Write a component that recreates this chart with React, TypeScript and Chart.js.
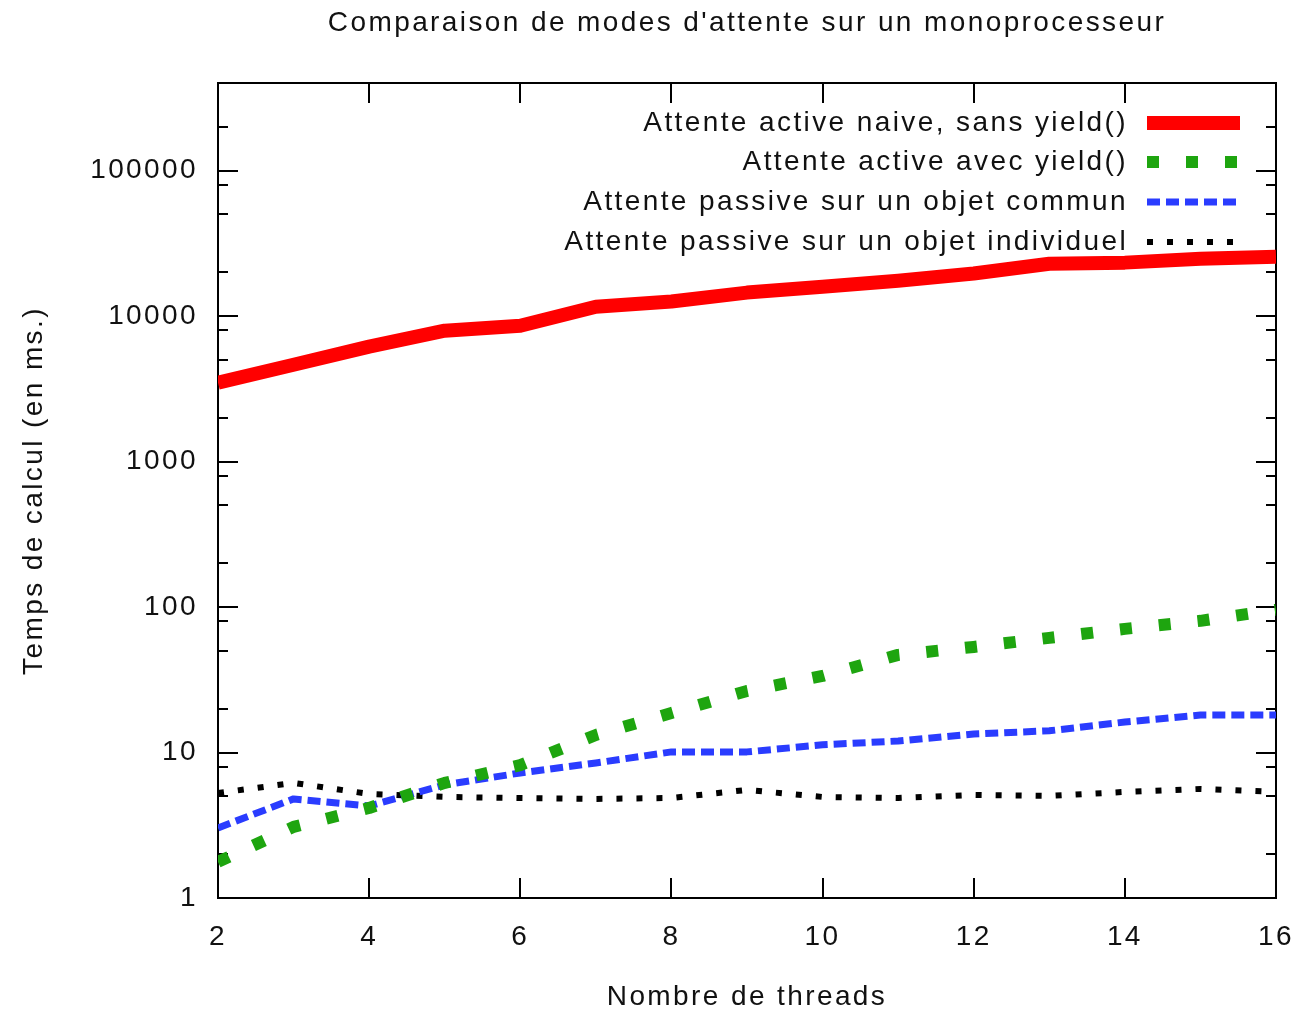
import React, { useEffect, useRef } from 'react';
import { Chart, registerables } from 'chart.js';

Chart.register(...registerables);

const chartTitle = "Comparaison de modes d'attente sur un monoprocesseur";
const xAxisTitle = 'Nombre de threads';
const yAxisTitle = 'Temps de calcul (en ms.)';

const threads = [2, 3, 4, 5, 6, 7, 8, 9, 10, 11, 12, 13, 14, 15, 16];
const naiveNoYield = [3480, 4630, 6160, 7940, 8590, 11600, 12600, 14500, 15900, 17500, 19600, 22900, 23300, 24800, 25600];
const activeWithYield = [1.77, 3.08, 4.16, 6.18, 8.2, 13.2, 18.7, 26.5, 33.6, 46.9, 53.2, 61.4, 70.8, 80.4, 95.7];
const passiveCommon = [3.03, 4.8, 4.29, 5.99, 7.24, 8.48, 10.1, 10.1, 11.3, 12.0, 13.4, 14.1, 16.2, 18.1, 18.1];
const passiveIndividual = [5.27, 6.18, 5.19, 4.95, 4.87, 4.8, 4.87, 5.53, 4.95, 4.87, 5.11, 5.03, 5.36, 5.62, 5.36];

const seriesLabels = [
  'Attente active naive, sans yield()',
  'Attente active avec yield()',
  'Attente passive sur un objet commun',
  'Attente passive sur un objet individuel',
];

const xTickValues = [2, 4, 6, 8, 10, 12, 14, 16];
const yMajorTicks = [1, 10, 100, 1000, 10000, 100000];
const yMinorFactors = [2, 5, 8];
const yMin = 1;
const yMax = 400000;

const FONT_FAMILY = '"Liberation Sans", Arial, sans-serif';
const FONT_SIZE = 28;
const LETTER_SPACING = '2.4px';
const TEXT_COLOR = '#111';

function buildYTicks() {
  const out: { value: number }[] = [];
  yMajorTicks.forEach((m) => {
    out.push({ value: m });
    yMinorFactors.forEach((f) => {
      const v = m * f;
      if (v <= yMax) out.push({ value: v });
    });
  });
  return out;
}

const gnuplotPlugin = {
  id: 'gnuplotFrame',
  beforeDraw(chart: any) {
    chart.ctx.letterSpacing = LETTER_SPACING;
  },
  beforeDatasetsDraw(chart: any) {
    const { ctx, chartArea } = chart;
    const { left, right, top, bottom } = chartArea;
    const xs = chart.scales.x;
    const ys = chart.scales.y;
    ctx.save();
    ctx.strokeStyle = '#000';
    ctx.lineWidth = 2;
    ctx.strokeRect(left, top, right - left, bottom - top);
    ctx.beginPath();
    ys.ticks.forEach((t: any) => {
      const py = Math.round(ys.getPixelForValue(t.value));
      const isMajor = Math.abs(Math.log10(t.value) - Math.round(Math.log10(t.value))) < 1e-9;
      const len = isMajor ? 20 : 10;
      ctx.moveTo(left, py);
      ctx.lineTo(left + len, py);
      ctx.moveTo(right, py);
      ctx.lineTo(right - len, py);
    });
    xs.ticks.forEach((t: any) => {
      const px = Math.round(xs.getPixelForValue(t.value));
      ctx.moveTo(px, bottom);
      ctx.lineTo(px, bottom - 20);
      ctx.moveTo(px, top);
      ctx.lineTo(px, top + 20);
    });
    ctx.stroke();
    ctx.restore();
  },
  afterDraw(chart: any) {
    const { ctx, chartArea } = chart;
    const { left, right, top, bottom } = chartArea;
    const cx = (left + right) / 2;
    ctx.save();
    ctx.letterSpacing = LETTER_SPACING;
    ctx.fillStyle = TEXT_COLOR;
    ctx.font = `${FONT_SIZE}px ${FONT_FAMILY}`;
    ctx.textBaseline = 'middle';
    ctx.textAlign = 'center';
    ctx.fillText(chartTitle, cx, 23);
    ctx.fillText(xAxisTitle, cx, 997);
    ctx.save();
    ctx.translate(34, (top + bottom) / 2);
    ctx.rotate(-Math.PI / 2);
    ctx.fillText(yAxisTitle, 0, 0);
    ctx.restore();

    // legend (gnuplot style: right-aligned text, sample on the right)
    const rowY = [123, 162, 202, 242];
    const textRight = 1128;
    const sampleX0 = 1147;
    const sampleX1 = 1240;
    chart.data.datasets.forEach((ds: any, i: number) => {
      const y = rowY[i];
      ctx.textAlign = 'right';
      ctx.fillStyle = TEXT_COLOR;
      ctx.fillText(ds.label, textRight, y);
      ctx.save();
      ctx.strokeStyle = ds.borderColor;
      ctx.lineWidth = ds.borderWidth;
      ctx.setLineDash(ds.borderDash || []);
      ctx.lineCap = 'butt';
      ctx.beginPath();
      ctx.moveTo(sampleX0, y);
      ctx.lineTo(sampleX1, y);
      ctx.stroke();
      ctx.restore();
    });
    ctx.restore();
  },
};

export default function App() {
  const canvasRef = useRef<HTMLCanvasElement | null>(null);

  useEffect(() => {
    const canvas = canvasRef.current;
    if (!canvas) return;
    const toPoints = (vals: number[]) => threads.map((t, i) => ({ x: t, y: vals[i] }));
    const font = { family: FONT_FAMILY, size: FONT_SIZE };

    const chart = new Chart(canvas, {
      type: 'line',
      data: {
        datasets: [
          {
            label: seriesLabels[0],
            data: toPoints(naiveNoYield),
            borderColor: '#ff0000',
            borderWidth: 14,
            borderDash: [],
          },
          {
            label: seriesLabels[1],
            data: toPoints(activeWithYield),
            borderColor: '#1ea50f',
            borderWidth: 12,
            borderDash: [12, 27],
          },
          {
            label: seriesLabels[2],
            data: toPoints(passiveCommon),
            borderColor: '#2a3cff',
            borderWidth: 7,
            borderDash: [13, 6],
          },
          {
            label: seriesLabels[3],
            data: toPoints(passiveIndividual),
            borderColor: '#000000',
            borderWidth: 6,
            borderDash: [6, 14],
          },
        ] as any,
      },
      options: {
        responsive: false,
        animation: false,
        devicePixelRatio: 1,
        layout: { padding: { left: 0, right: 18, top: 83, bottom: 0 } },
        elements: {
          point: { radius: 0, hoverRadius: 0 },
          line: { tension: 0, borderJoinStyle: 'round', borderCapStyle: 'butt', fill: false },
        },
        datasets: { line: { clip: 0 } } as any,
        plugins: {
          legend: { display: false },
          title: { display: false },
          tooltip: { enabled: false },
        },
        events: [],
        scales: {
          x: {
            type: 'linear',
            min: 2,
            max: 16,
            afterBuildTicks: (s: any) => {
              s.ticks = xTickValues.map((v) => ({ value: v }));
            },
            afterFit: (s: any) => {
              s.height = 113;
              s.paddingLeft = 0;
              s.paddingRight = 0;
            },
            grid: { display: false, drawTicks: false },
            border: { display: false },
            ticks: {
              font,
              color: TEXT_COLOR,
              padding: 22,
              maxRotation: 0,
              autoSkip: false,
            },
          },
          y: {
            type: 'logarithmic',
            min: yMin,
            max: yMax,
            afterBuildTicks: (s: any) => {
              s.ticks = buildYTicks();
            },
            afterFit: (s: any) => {
              s.width = 218;
              s.paddingTop = 0;
              s.paddingBottom = 0;
            },
            grid: { display: false, drawTicks: false },
            border: { display: false },
            ticks: {
              font,
              color: TEXT_COLOR,
              padding: 20,
              autoSkip: false,
              callback: (value: any) => (yMajorTicks.includes(Number(value)) ? String(value) : ''),
            },
          },
        },
      },
      plugins: [gnuplotPlugin],
    });

    return () => chart.destroy();
  }, []);

  return (
    <div style={{ position: 'fixed', left: 0, top: 0, width: 1294, height: 1011, background: '#fff' }}>
      <canvas ref={canvasRef} width={1294} height={1011} style={{ display: 'block' }} />
    </div>
  );
}
